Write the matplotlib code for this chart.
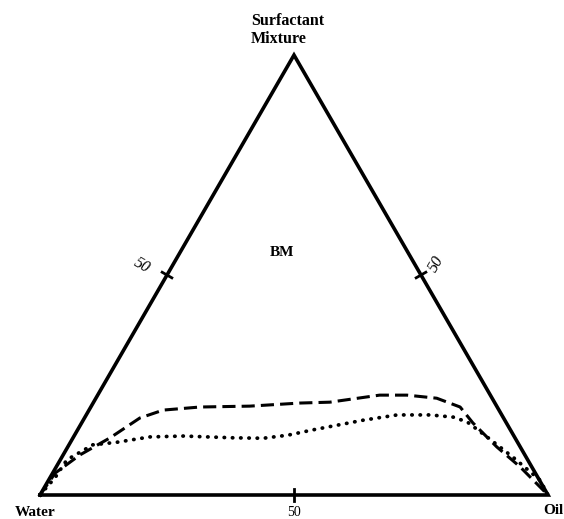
import numpy as np
import matplotlib.pyplot as plt

# ternary compositions, in % (surfactant, oil); water = rest
dash_surf = [0, 5, 9.1, 13.0, 17.5, 19.3, 20.0, 20.2, 20.9, 21.1, 22.7, 22.7, 22.0, 20.0, 16.4, 10.9, 6.4, 0]
dash_oil = [0, 0.5, 3.3, 7.3, 10.9, 14.6, 21.5, 31.2, 40.7, 46.5, 55.5, 60.9, 67.1, 72.7, 77.0, 84.5, 91.3, 100]

dot_surf = [0, 4, 8.0, 11.4, 12.0, 13.2, 13.4, 13.0, 12.9, 13.6, 14.8, 17.0, 18.2, 18.2, 17.7, 16.6, 13.2, 8.6, 3.4, 0]
dot_oil = [0, 1, 1.3, 4.7, 9.2, 15.0, 21.5, 31.5, 37.5, 42.0, 46.3, 55.1, 61.2, 67.7, 72.5, 75.8, 81.4, 88.8, 96.7, 100]

corner_labels = ['Water', 'Oil', 'Surfactant\nMixture']
tick_label = '50'
region_label = 'BM'

H = np.sqrt(3) / 2


def to_xy(surf, oil):
    s = np.asarray(surf) / 100.0
    o = np.asarray(oil) / 100.0
    return o + s / 2, s * H


fig = plt.figure(figsize=(5.64, 5.19), dpi=100)
ax = fig.add_axes([0, 0, 1, 1])
ax.set_xlim(-40 / 508, 524 / 508)
ax.set_ylim(-24 / 508, 495 / 508)
ax.axis('off')

serif = ['Liberation Serif', 'DejaVu Serif']

# triangle
ax.plot([0, 1, 0.5, 0], [0, 0, H, 0], color='black', lw=2.6, solid_joinstyle='miter')

# 50 ticks on each side
tl = 0.011
for (mx, my), ang in [((0.5, 0), 90), ((0.25, H / 2), -30), ((0.75, H / 2), 30)]:
    dx, dy = tl * np.cos(np.radians(ang)), tl * np.sin(np.radians(ang))
    ax.plot([mx - dx, mx + dx], [my - dy, my + dy], color='black', lw=2.0)

# phase boundaries
x, y = to_xy(dash_surf, dash_oil)
ax.plot(x, y, color='black', lw=2.2, linestyle=(0, (4.3, 2.0)))
x, y = to_xy(dot_surf, dot_oil)
ax.plot(x, y, color='black', lw=2.7, linestyle=(0, (0.1, 2.1)), dash_capstyle='round')

# labels
ax.text(-0.01, -0.034, corner_labels[0], ha='center', va='center', fontsize=11,
        fontweight='bold', family=serif)
ax.text(1.01, -0.03, corner_labels[1], ha='center', va='center', fontsize=11,
        fontweight='bold', family=serif)
ax.text(0.415, H + 0.05, corner_labels[2], ha='left', va='center', fontsize=11.5,
        fontweight='bold', family=serif, linespacing=1.15)
ax.text(0.5, -0.034, tick_label, ha='center', va='center', fontsize=10, family=serif)
ax.text(0.201, 0.451, tick_label, ha='center', va='center', fontsize=11.5,
        family=serif, style='italic', rotation=-30)
ax.text(0.781, 0.455, tick_label, ha='center', va='center', fontsize=11.5,
        family=serif, style='italic', rotation=60)
ax.text(0.477, 0.477, region_label, ha='center', va='center', fontsize=11,
        fontweight='bold', family=serif)

fig.savefig('out.png', dpi=100)
